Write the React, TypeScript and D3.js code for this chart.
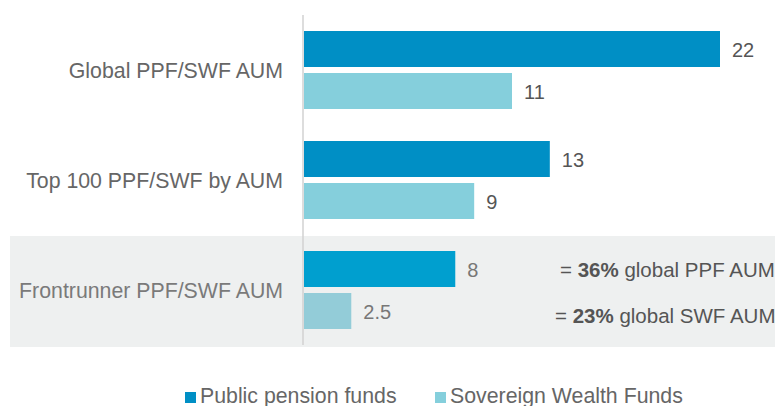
import React from "react";
import * as d3 from "d3";

const categories = ["Global PPF/SWF AUM", "Top 100 PPF/SWF by AUM", "Frontrunner PPF/SWF AUM"];
const seriesNames = ["Public pension funds", "Sovereign Wealth Funds"];
const ppfValues = [22, 13, 8];
const swfValues = [11, 9, 2.5];
const ppfLabels = ["22", "13", "8"];
const swfLabels = ["11", "9", "2.5"];
const annotationPct = ["36%", "23%"];
const annotationRest = [" global PPF AUM", " global SWF AUM"];

const W = 775;
const H = 406;
const FONT = "'Liberation Sans', Arial, sans-serif";

export default function App() {
  const x = d3.scaleLinear().domain([0, 22]).range([304, 720]);
  const y = d3.scaleBand<string>().domain(categories).range([15, 345]).padding(0);
  const sub = d3.scaleBand<string>().domain(seriesNames).range([0, 78]).paddingInner(1 - 36 / 42).paddingOuter(0);
  const groupOffset = (y.bandwidth() - 78) / 2;

  const colorsNormal = ["#008fc5", "#85cfdc"];
  const colorsHi = ["#009fcf", "#93ccd8"];

  const series = [ppfValues, swfValues];
  const labels = [ppfLabels, swfLabels];

  return (
    <svg width={W} height={H} style={{ position: "absolute", left: 0, top: 0 }} fontFamily={FONT}>
      <rect x={0} y={0} width={W} height={H} fill="#ffffff" />
      {/* highlighted band */}
      <rect x={10} y={(y(categories[2]) as number) + 1} width={W - 10} height={111} fill="#eef0f0" />
      {/* axis line */}
      <line x1={303} x2={303} y1={15} y2={345} stroke="#d2d2d2" strokeWidth={1.5} />
      {categories.map((c, i) => {
        const y0 = (y(c) as number) + groupOffset;
        const hi = i === 2;
        return (
          <g key={c}>
            <text
              x={283}
              y={(y(c) as number) + y.bandwidth() / 2 + 7.5}
              textAnchor="end"
              fontSize={21.3}
              fill={hi ? "#7a7a7a" : "#666666"}
            >
              {c}
            </text>
            {seriesNames.map((s, j) => {
              const by = y0 + (sub(s) as number);
              const v = series[j][i];
              return (
                <g key={s}>
                  <rect
                    x={x(0)}
                    y={by}
                    width={x(v) - x(0)}
                    height={sub.bandwidth()}
                    fill={hi ? colorsHi[j] : colorsNormal[j]}
                  />
                  <text
                    x={x(v) + 12}
                    y={by + sub.bandwidth() / 2 + 7.5}
                    fontSize={20}
                    fill={hi ? "#777777" : "#555555"}
                  >
                    {labels[j][i]}
                  </text>
                </g>
              );
            })}
          </g>
        );
      })}
      {/* annotations */}
      {annotationPct.map((p, j) => (
        <text key={p} x={j === 0 ? 560 : 555} y={j === 0 ? 277 : 323} fontSize={20.5} fill="#555555">
          {"= "}
          <tspan fontWeight="bold">{p}</tspan>
          {annotationRest[j]}
        </text>
      ))}
      {/* legend */}
      {seriesNames.map((s, j) => {
        const lx = j === 0 ? 185 : 435;
        return (
          <g key={s}>
            <rect x={lx} y={392} width={11} height={11} fill={colorsNormal[j]} />
            <text x={lx + 15} y={402.5} fontSize={21.3} fill="#666666">
              {s}
            </text>
          </g>
        );
      })}
    </svg>
  );
}
